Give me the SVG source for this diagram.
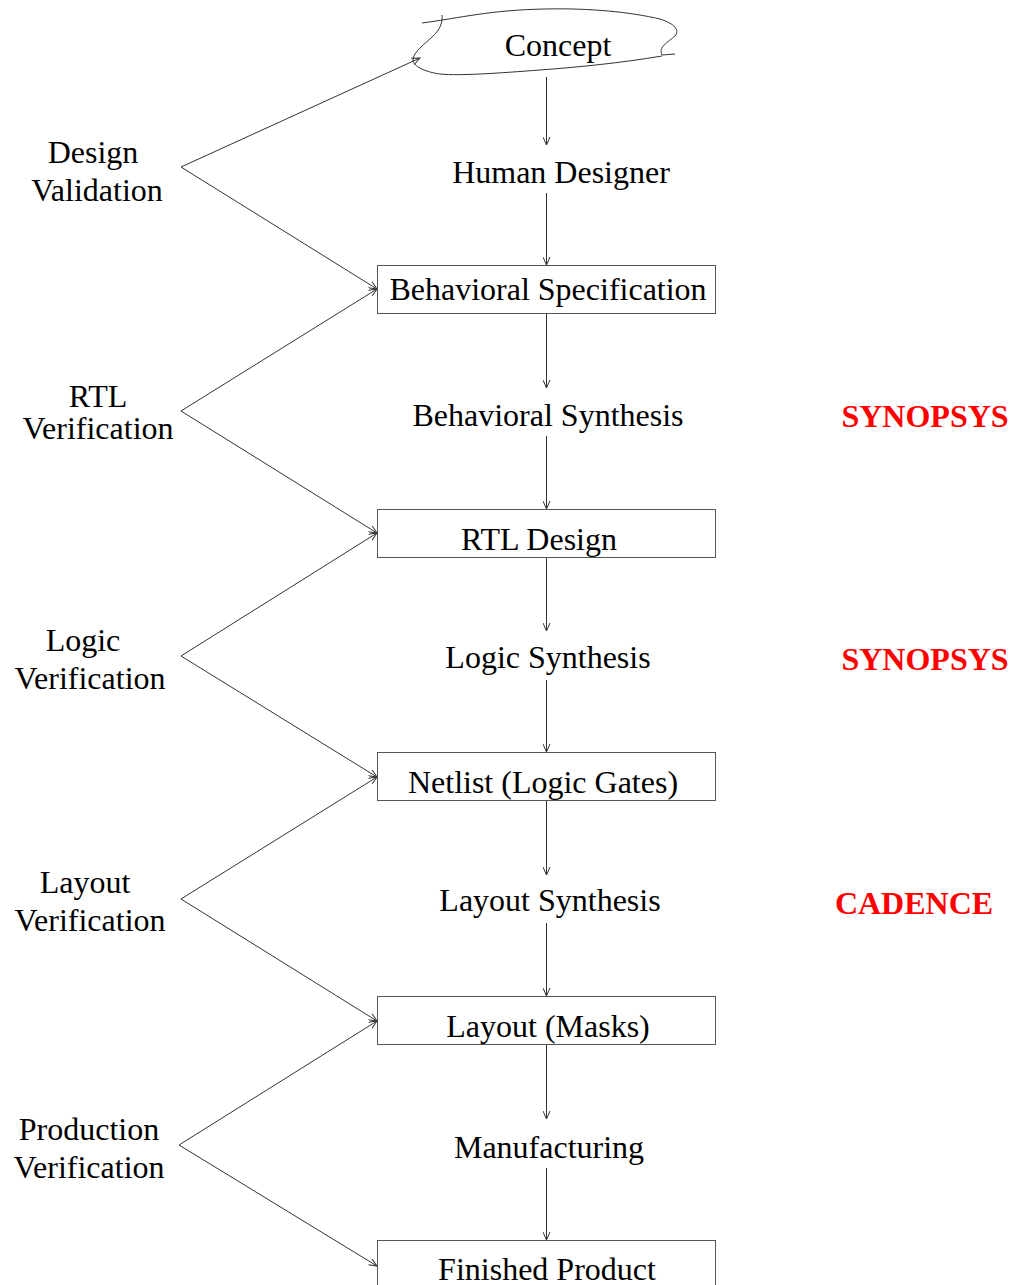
<svg xmlns="http://www.w3.org/2000/svg" width="1012" height="1285" viewBox="0 0 1012 1285">
  <style>
    text { font-family: "Liberation Serif", "Times New Roman", serif; font-size: 32px; fill: #000; }
    .mid { text-anchor: middle; }
    .vendor { font-weight: bold; font-size: 32px; fill: #ff0000; }
    .box { fill: #fff; stroke: #555; stroke-width: 1; }
    .conn line, .conn path { stroke: #333; stroke-width: 1; fill: none; }
  </style>
  <defs>
    <marker id="arrow" markerWidth="10" markerHeight="8" refX="9" refY="4" orient="auto" markerUnits="userSpaceOnUse">
      <path d="M1,0.5 L9,4 L1,7.5" fill="none" stroke="#333" stroke-width="1"/>
    </marker>
  </defs>

  <rect width="1012" height="1285" fill="#fff"/>

  <!-- connectors -->
  <g class="conn" id="connectors">
    <!-- main flow -->
    <line x1="546.5" y1="77" x2="546.5" y2="145" marker-end="url(#arrow)"/>
    <line x1="546.5" y1="193" x2="546.5" y2="265" marker-end="url(#arrow)"/>
    <line x1="546.5" y1="313" x2="546.5" y2="388" marker-end="url(#arrow)"/>
    <line x1="546.5" y1="436" x2="546.5" y2="509" marker-end="url(#arrow)"/>
    <line x1="546.5" y1="557" x2="546.5" y2="631" marker-end="url(#arrow)"/>
    <line x1="546.5" y1="680" x2="546.5" y2="752" marker-end="url(#arrow)"/>
    <line x1="546.5" y1="801" x2="546.5" y2="875" marker-end="url(#arrow)"/>
    <line x1="546.5" y1="923" x2="546.5" y2="996" marker-end="url(#arrow)"/>
    <line x1="546.5" y1="1045" x2="546.5" y2="1119" marker-end="url(#arrow)"/>
    <line x1="546.5" y1="1168" x2="546.5" y2="1240" marker-end="url(#arrow)"/>
    <!-- verification brackets -->
    <line x1="181" y1="167" x2="420" y2="58" marker-end="url(#arrow)"/>
    <line x1="181" y1="167" x2="377" y2="289" marker-end="url(#arrow)"/>
    <line x1="181" y1="411" x2="377" y2="289" marker-end="url(#arrow)"/>
    <line x1="181" y1="411" x2="377" y2="533" marker-end="url(#arrow)"/>
    <line x1="181" y1="656" x2="377" y2="533" marker-end="url(#arrow)"/>
    <line x1="181" y1="656" x2="377" y2="777" marker-end="url(#arrow)"/>
    <line x1="181" y1="899" x2="377" y2="777" marker-end="url(#arrow)"/>
    <line x1="181" y1="899" x2="377" y2="1021" marker-end="url(#arrow)"/>
    <line x1="179" y1="1145" x2="377" y2="1021" marker-end="url(#arrow)"/>
    <line x1="179" y1="1145" x2="377" y2="1266" marker-end="url(#arrow)"/>
  </g>

  <!-- hand-drawn concept cloud -->
  <g id="concept">
    <path d="M422,23 C460,18 490,10 545,9 C590,8 630,12 660,19 C675,24 680,30 675,36 C668,42 658,47 662,55 L675,54
             M662,56 C620,63 580,67 540,70 C500,73 460,76 440,74 C425,72 413,66 413,60 C413,52 425,44 432,37 C440,30 443,22 442,15"
          fill="none" stroke="#333" stroke-width="1"/>
    <text class="mid" x="558" y="56">Concept</text>
  </g>

  <g id="human-designer"><text class="mid" x="561" y="183">Human Designer</text></g>

  <g id="behavioral-spec">
    <rect class="box" x="377.5" y="265.5" width="338" height="48"/>
    <text class="mid" x="548" y="300">Behavioral Specification</text>
  </g>

  <g id="behavioral-synthesis"><text class="mid" x="548" y="426">Behavioral Synthesis</text></g>

  <g id="rtl-design">
    <rect class="box" x="377.5" y="509.5" width="338" height="48"/>
    <text class="mid" x="539" y="550">RTL Design</text>
  </g>

  <g id="logic-synthesis"><text class="mid" x="548" y="668">Logic Synthesis</text></g>

  <g id="netlist">
    <rect class="box" x="377.5" y="752.5" width="338" height="48"/>
    <text class="mid" x="543" y="793">Netlist (Logic Gates)</text>
  </g>

  <g id="layout-synthesis"><text class="mid" x="550" y="911">Layout Synthesis</text></g>

  <g id="layout-masks">
    <rect class="box" x="377.5" y="996.5" width="338" height="48"/>
    <text class="mid" x="548" y="1037">Layout (Masks)</text>
  </g>

  <g id="manufacturing"><text class="mid" x="549" y="1158">Manufacturing</text></g>

  <g id="finished-product">
    <rect class="box" x="377.5" y="1240.5" width="338" height="60"/>
    <text class="mid" x="547" y="1280">Finished Product</text>
  </g>

  <!-- verification labels -->
  <g id="design-validation">
    <text class="mid" x="93" y="163">Design</text>
    <text class="mid" x="97" y="201">Validation</text>
  </g>
  <g id="rtl-verification">
    <text class="mid" x="98" y="407">RTL</text>
    <text class="mid" x="98" y="439">Verification</text>
  </g>
  <g id="logic-verification">
    <text class="mid" x="83" y="651">Logic</text>
    <text class="mid" x="90" y="689">Verification</text>
  </g>
  <g id="layout-verification">
    <text class="mid" x="85" y="893">Layout</text>
    <text class="mid" x="90" y="931">Verification</text>
  </g>
  <g id="production-verification">
    <text class="mid" x="89" y="1140">Production</text>
    <text class="mid" x="89" y="1178">Verification</text>
  </g>

  <!-- tool vendors -->
  <g id="vendor-synopsys-1"><text class="vendor mid" x="925" y="427">SYNOPSYS</text></g>
  <g id="vendor-synopsys-2"><text class="vendor mid" x="925" y="670">SYNOPSYS</text></g>
  <g id="vendor-cadence"><text class="vendor mid" x="914" y="914">CADENCE</text></g>
</svg>
